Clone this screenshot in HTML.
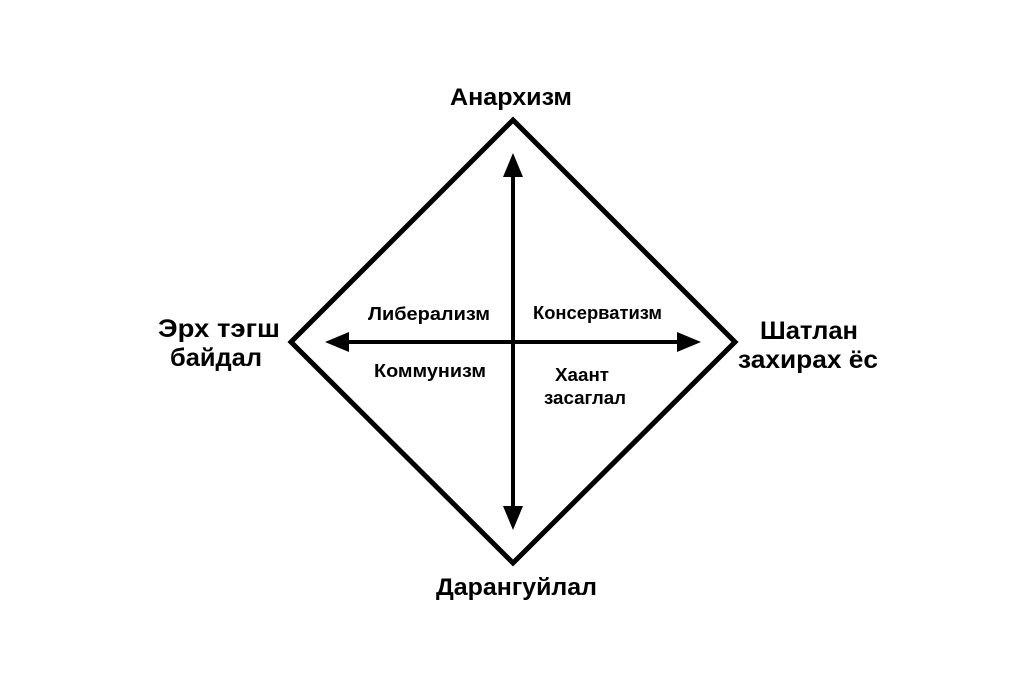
<!DOCTYPE html>
<html><head><meta charset="utf-8"><style>
body{margin:0;background:#fff;}
svg text{font-family:"Liberation Sans",sans-serif;font-weight:bold;fill:#000;}
</style></head><body>
<svg width="1024" height="683" viewBox="0 0 1024 683" xmlns="http://www.w3.org/2000/svg">
<polygon points="513,120 735,342 513,563 291,342" fill="none" stroke="#000" stroke-width="5" stroke-linejoin="miter"/>
<line x1="513" y1="170" x2="513" y2="512" stroke="#000" stroke-width="4"/>
<line x1="340" y1="342" x2="685" y2="342" stroke="#000" stroke-width="4"/>
<polygon points="513,153 503,177 523,177"/>
<polygon points="513,530 503,506 523,506"/>
<polygon points="325,342 349,332 349,352"/>
<polygon points="701,342 677,332 677,352"/>
<text x="450" y="105" font-size="24" textLength="122" lengthAdjust="spacingAndGlyphs">Анархизм</text>
<text x="436" y="595" font-size="24" textLength="161" lengthAdjust="spacingAndGlyphs">Дарангуйлал</text>
<text x="158" y="337" font-size="25" textLength="122" lengthAdjust="spacingAndGlyphs">Эрх тэгш</text>
<text x="170" y="366" font-size="25" textLength="92" lengthAdjust="spacingAndGlyphs">байдал</text>
<text x="760" y="339" font-size="25" textLength="98" lengthAdjust="spacingAndGlyphs">Шатлан</text>
<text x="738" y="368" font-size="25" textLength="140" lengthAdjust="spacingAndGlyphs">захирах ёс</text>
<text x="368" y="320" font-size="18" textLength="122" lengthAdjust="spacingAndGlyphs">Либерализм</text>
<text x="533" y="319" font-size="18" textLength="129" lengthAdjust="spacingAndGlyphs">Консерватизм</text>
<text x="374" y="377" font-size="18" textLength="112" lengthAdjust="spacingAndGlyphs">Коммунизм</text>
<text x="555" y="381" font-size="18" textLength="54" lengthAdjust="spacingAndGlyphs">Хаант</text>
<text x="544" y="404" font-size="18" textLength="82" lengthAdjust="spacingAndGlyphs">засаглал</text>
</svg>
</body></html>
